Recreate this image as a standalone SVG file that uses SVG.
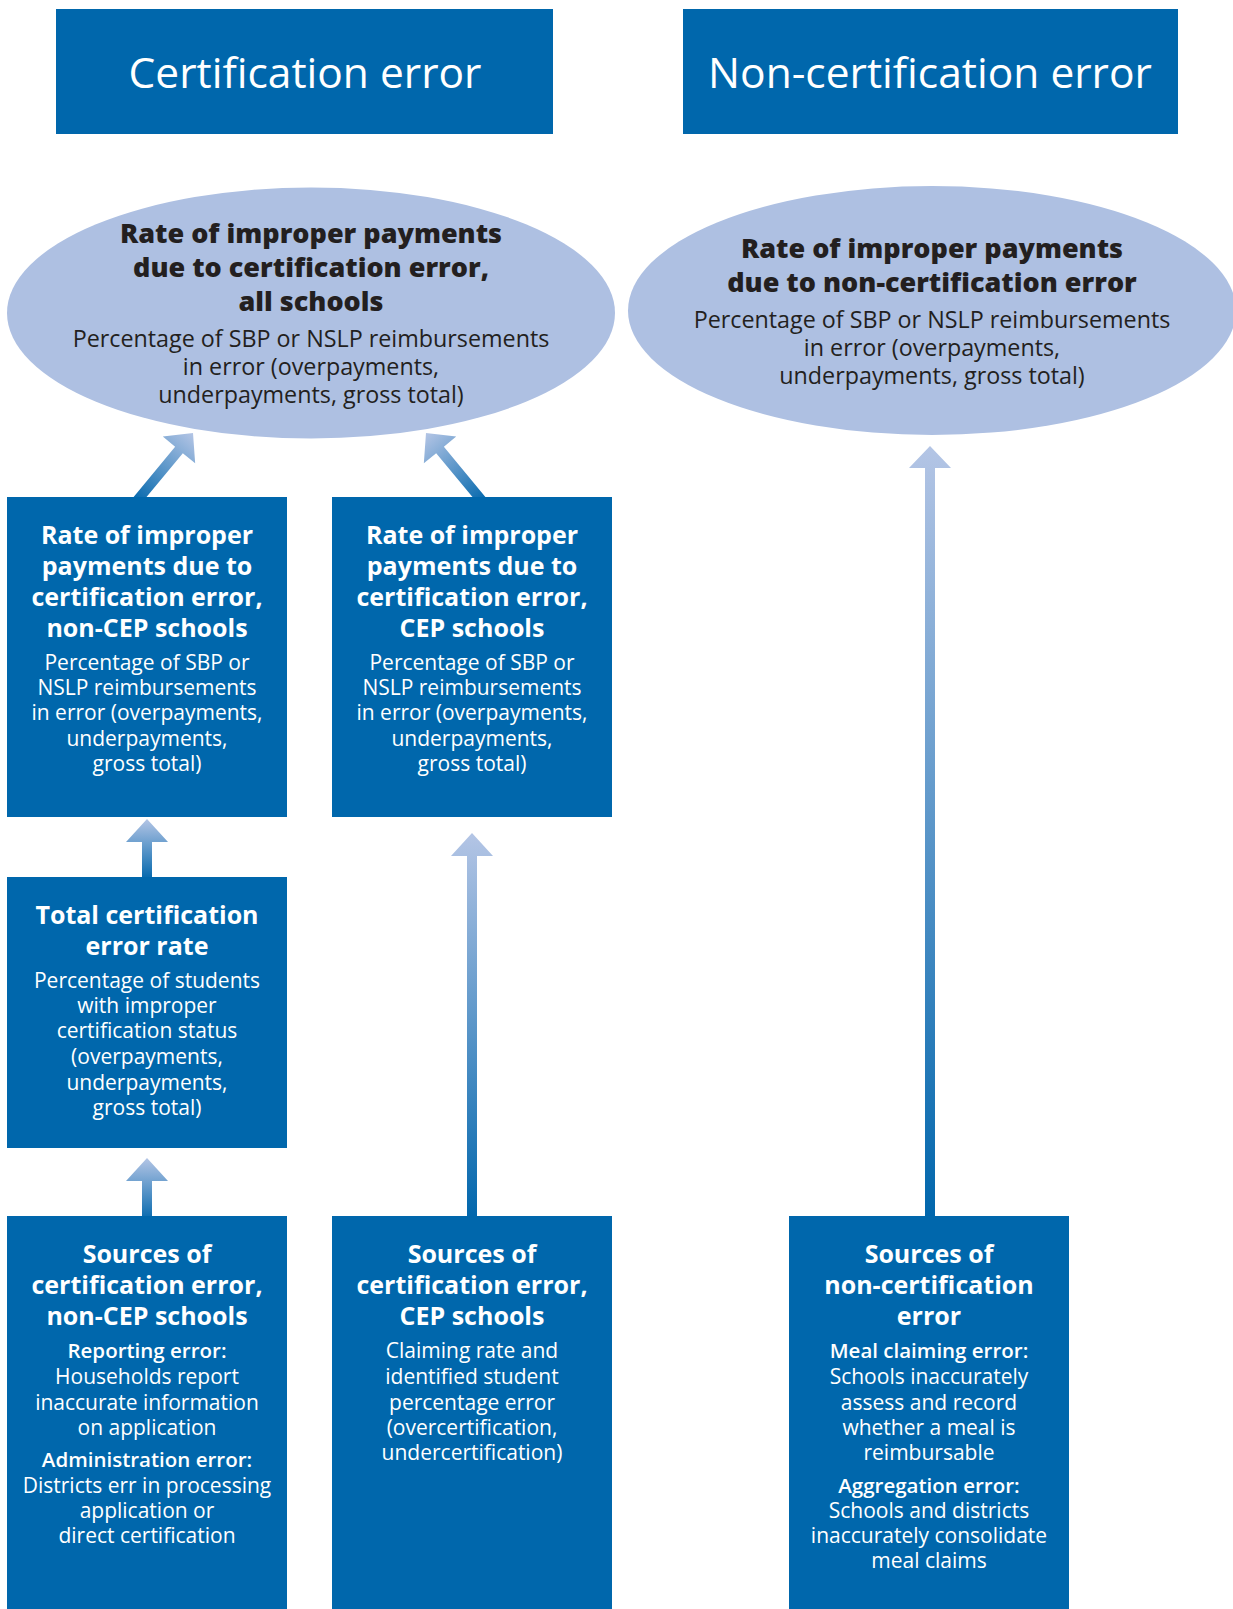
<svg xmlns="http://www.w3.org/2000/svg" width="1233" height="1609" viewBox="0 0 1233 1609">
  <defs>
    <linearGradient id="arrowGrad" x1="0" y1="0" x2="0" y2="1">
      <stop offset="0" stop-color="#B4C5E5"/>
      <stop offset="1" stop-color="#0066AC"/>
    </linearGradient>
    <style>
      .box { fill: #0067AC; }
      .ell { fill: #AEC0E2; }
      .arrow { fill: url(#arrowGrad); }
      text { font-family: 'Open Sans', 'Liberation Sans', sans-serif; text-anchor: middle; }
      .hdr { font-size: 42.5px; font-weight: 500; fill: #FFFFFF; }
      .eb { font-size: 27px; font-weight: 800; fill: #231F20; }
      .er { font-size: 23.3px; fill: #231F20; }
      .bb { font-size: 25px; font-weight: 700; fill: #FFFFFF; }
      .br { font-size: 21px; fill: #FFFFFF; }
      .bs { font-size: 20.5px; font-weight: 600; fill: #FFFFFF; }
    </style>
  </defs>
  <rect width="1233" height="1609" fill="#FFFFFF"/>

  <g id="connectors">
    <!-- non-CEP rate -> all schools (diagonal) -->
    <polygon class="arrow" transform="translate(193,433) rotate(39.6)" points="0,0 21,22 5,22 5,92 -5,92 -5,22 -21,22"/>
    <!-- CEP rate -> all schools (diagonal) -->
    <polygon class="arrow" transform="translate(426,433) rotate(-39.6)" points="0,0 21,22 5,22 5,92 -5,92 -5,22 -21,22"/>
    <!-- total cert error rate -> non-CEP rate -->
    <polygon class="arrow" points="147,819 168,842 152,842 152,880 142,880 142,842 126,842"/>
    <!-- sources non-CEP -> total cert error rate -->
    <polygon class="arrow" points="147,1158 168,1181 152,1181 152,1222 142,1222 142,1181 126,1181"/>
    <!-- sources CEP -> CEP rate -->
    <polygon class="arrow" points="472,833 493,856 477,856 477,1220 467,1220 467,856 451,856"/>
    <!-- sources non-cert -> non-cert rate -->
    <polygon class="arrow" points="930,446 951,468 935,468 935,1220 925,1220 925,468 909,468"/>
  </g>

  <g id="hdr-cert">
    <rect class="box" x="56" y="9" width="497" height="125"/>
    <text class="hdr" x="305" y="88">Certification error</text>
  </g>

  <g id="hdr-noncert">
    <rect class="box" x="683" y="9" width="495" height="125"/>
    <text class="hdr" x="930" y="88">Non-certification error</text>
  </g>

  <g id="ell-cert-all">
    <ellipse class="ell" cx="311" cy="313" rx="304" ry="125.5"/>
    <text class="eb" x="311" y="243">Rate of improper payments</text>
    <text class="eb" x="311" y="277">due to certification error,</text>
    <text class="eb" x="311" y="311">all schools</text>
    <text class="er" x="311" y="347">Percentage of SBP or NSLP reimbursements</text>
    <text class="er" x="311" y="375">in error (overpayments,</text>
    <text class="er" x="311" y="403">underpayments, gross total)</text>
  </g>

  <g id="ell-noncert">
    <ellipse class="ell" cx="932" cy="310.5" rx="304" ry="124.5"/>
    <text class="eb" x="932" y="258">Rate of improper payments</text>
    <text class="eb" x="932" y="292">due to non-certification error</text>
    <text class="er" x="932" y="328">Percentage of SBP or NSLP reimbursements</text>
    <text class="er" x="932" y="356">in error (overpayments,</text>
    <text class="er" x="932" y="384">underpayments, gross total)</text>
  </g>

  <g id="box-rate-noncep">
    <rect class="box" x="7" y="497" width="280" height="320"/>
    <text class="bb" x="147" y="544">Rate of improper</text>
    <text class="bb" x="147" y="575">payments due to</text>
    <text class="bb" x="147" y="606">certification error,</text>
    <text class="bb" x="147" y="637">non-CEP schools</text>
    <text class="br" x="147" y="670">Percentage of SBP or</text>
    <text class="br" x="147" y="695">NSLP reimbursements</text>
    <text class="br" x="147" y="720">in error (overpayments,</text>
    <text class="br" x="147" y="746">underpayments,</text>
    <text class="br" x="147" y="771">gross total)</text>
  </g>

  <g id="box-rate-cep">
    <rect class="box" x="332" y="497" width="280" height="320"/>
    <text class="bb" x="472" y="544">Rate of improper</text>
    <text class="bb" x="472" y="575">payments due to</text>
    <text class="bb" x="472" y="606">certification error,</text>
    <text class="bb" x="472" y="637">CEP schools</text>
    <text class="br" x="472" y="670">Percentage of SBP or</text>
    <text class="br" x="472" y="695">NSLP reimbursements</text>
    <text class="br" x="472" y="720">in error (overpayments,</text>
    <text class="br" x="472" y="746">underpayments,</text>
    <text class="br" x="472" y="771">gross total)</text>
  </g>

  <g id="box-total-rate">
    <rect class="box" x="7" y="877" width="280" height="271"/>
    <text class="bb" x="147" y="924">Total certification</text>
    <text class="bb" x="147" y="955">error rate</text>
    <text class="br" x="147" y="988">Percentage of students</text>
    <text class="br" x="147" y="1013">with improper</text>
    <text class="br" x="147" y="1038">certification status</text>
    <text class="br" x="147" y="1064">(overpayments,</text>
    <text class="br" x="147" y="1090">underpayments,</text>
    <text class="br" x="147" y="1115">gross total)</text>
  </g>

  <g id="box-sources-noncep">
    <rect class="box" x="7" y="1216" width="280" height="393"/>
    <text class="bb" x="147" y="1263">Sources of</text>
    <text class="bb" x="147" y="1294">certification error,</text>
    <text class="bb" x="147" y="1325">non-CEP schools</text>
    <text class="bs" x="147" y="1358">Reporting error:</text>
    <text class="br" x="147" y="1384">Households report</text>
    <text class="br" x="147" y="1410">inaccurate information</text>
    <text class="br" x="147" y="1435">on application</text>
    <text class="bs" x="147" y="1467">Administration error:</text>
    <text class="br" x="147" y="1493">Districts err in processing</text>
    <text class="br" x="147" y="1518">application or</text>
    <text class="br" x="147" y="1543">direct certification</text>
  </g>

  <g id="box-sources-cep">
    <rect class="box" x="332" y="1216" width="280" height="393"/>
    <text class="bb" x="472" y="1263">Sources of</text>
    <text class="bb" x="472" y="1294">certification error,</text>
    <text class="bb" x="472" y="1325">CEP schools</text>
    <text class="br" x="472" y="1358">Claiming rate and</text>
    <text class="br" x="472" y="1384">identified student</text>
    <text class="br" x="472" y="1410">percentage error</text>
    <text class="br" x="472" y="1435">(overcertification,</text>
    <text class="br" x="472" y="1460">undercertification)</text>
  </g>

  <g id="box-sources-noncert">
    <rect class="box" x="789" y="1216" width="280" height="393"/>
    <text class="bb" x="929" y="1263">Sources of</text>
    <text class="bb" x="929" y="1294">non-certification</text>
    <text class="bb" x="929" y="1325">error</text>
    <text class="bs" x="929" y="1358">Meal claiming error:</text>
    <text class="br" x="929" y="1384">Schools inaccurately</text>
    <text class="br" x="929" y="1410">assess and record</text>
    <text class="br" x="929" y="1435">whether a meal is</text>
    <text class="br" x="929" y="1460">reimbursable</text>
    <text class="bs" x="929" y="1493">Aggregation error:</text>
    <text class="br" x="929" y="1518">Schools and districts</text>
    <text class="br" x="929" y="1543">inaccurately consolidate</text>
    <text class="br" x="929" y="1568">meal claims</text>
  </g>
</svg>
